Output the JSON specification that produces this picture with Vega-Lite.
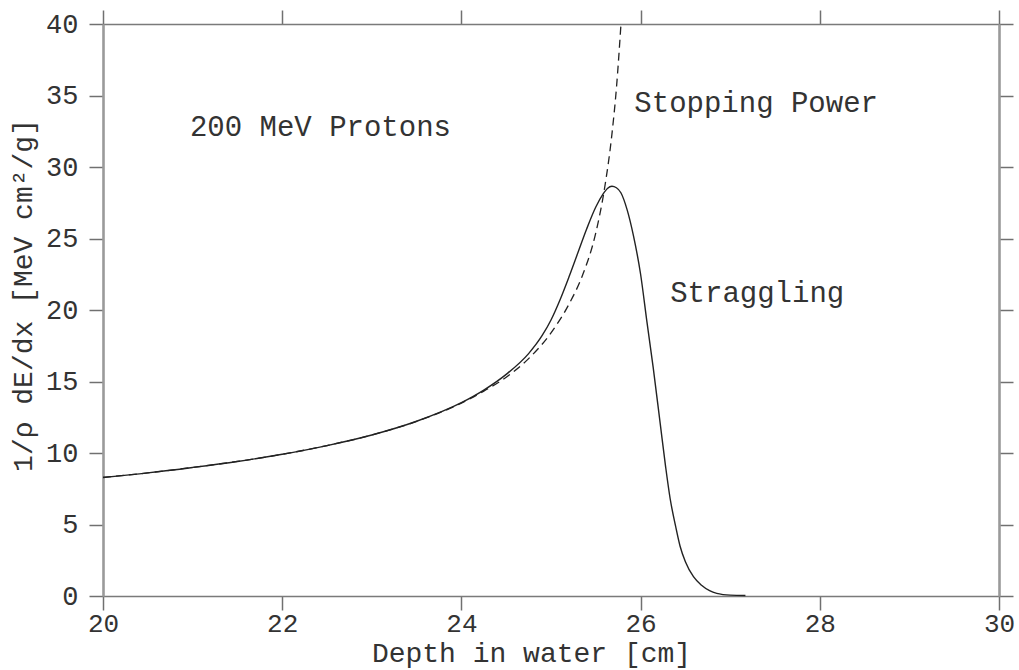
{
  "$schema": "https://vega.github.io/schema/vega-lite/v6.json",
  "width": 896,
  "height": 572,
  "autosize": "none",
  "padding": {"left": 103, "top": 24, "right": 20, "bottom": 74},
  "background": "white",
  "config": {
    "view": {"stroke": null},
    "axis": {
      "grid": false,
      "domainColor": "#7a7a7a",
      "domainWidth": 1.6,
      "tickColor": "#707070",
      "tickWidth": 1.5,
      "tickSize": 14,
      "labelFont": "Liberation Mono",
      "labelFontSize": 27,
      "labelColor": "#333333",
      "titleFont": "Liberation Mono",
      "titleFontWeight": "normal",
      "titleColor": "#333333"
    }
  },
  "datasets": {
    "curves": [
      {"depth": 20.0, "dedx": 8.29, "curve": "Stopping Power"},
      {"depth": 20.5, "dedx": 8.61, "curve": "Stopping Power"},
      {"depth": 21.0, "dedx": 8.99, "curve": "Stopping Power"},
      {"depth": 21.5, "dedx": 9.41, "curve": "Stopping Power"},
      {"depth": 22.0, "dedx": 9.91, "curve": "Stopping Power"},
      {"depth": 22.5, "dedx": 10.52, "curve": "Stopping Power"},
      {"depth": 23.0, "dedx": 11.26, "curve": "Stopping Power"},
      {"depth": 23.5, "dedx": 12.21, "curve": "Stopping Power"},
      {"depth": 24.0, "dedx": 13.49, "curve": "Stopping Power"},
      {"depth": 24.25, "dedx": 14.33, "curve": "Stopping Power"},
      {"depth": 24.5, "dedx": 15.3, "curve": "Stopping Power"},
      {"depth": 24.75, "dedx": 16.6, "curve": "Stopping Power"},
      {"depth": 25.0, "dedx": 18.4, "curve": "Stopping Power"},
      {"depth": 25.2, "dedx": 20.4, "curve": "Stopping Power"},
      {"depth": 25.35, "dedx": 22.4, "curve": "Stopping Power"},
      {"depth": 25.5, "dedx": 25.4, "curve": "Stopping Power"},
      {"depth": 25.6, "dedx": 28.6, "curve": "Stopping Power"},
      {"depth": 25.68, "dedx": 32.3, "curve": "Stopping Power"},
      {"depth": 25.73, "dedx": 35.5, "curve": "Stopping Power"},
      {"depth": 25.78, "dedx": 39.9, "curve": "Stopping Power"},
      {"depth": 20.0, "dedx": 8.29, "curve": "Straggling"},
      {"depth": 20.5, "dedx": 8.61, "curve": "Straggling"},
      {"depth": 21.0, "dedx": 8.99, "curve": "Straggling"},
      {"depth": 21.5, "dedx": 9.41, "curve": "Straggling"},
      {"depth": 22.0, "dedx": 9.91, "curve": "Straggling"},
      {"depth": 22.5, "dedx": 10.52, "curve": "Straggling"},
      {"depth": 23.0, "dedx": 11.26, "curve": "Straggling"},
      {"depth": 23.5, "dedx": 12.22, "curve": "Straggling"},
      {"depth": 24.0, "dedx": 13.52, "curve": "Straggling"},
      {"depth": 24.25, "dedx": 14.4, "curve": "Straggling"},
      {"depth": 24.5, "dedx": 15.5, "curve": "Straggling"},
      {"depth": 24.75, "dedx": 16.95, "curve": "Straggling"},
      {"depth": 24.9, "dedx": 18.2, "curve": "Straggling"},
      {"depth": 25.0, "dedx": 19.3, "curve": "Straggling"},
      {"depth": 25.1, "dedx": 20.7, "curve": "Straggling"},
      {"depth": 25.2, "dedx": 22.3, "curve": "Straggling"},
      {"depth": 25.3, "dedx": 24.0, "curve": "Straggling"},
      {"depth": 25.4, "dedx": 25.7, "curve": "Straggling"},
      {"depth": 25.5, "dedx": 27.2, "curve": "Straggling"},
      {"depth": 25.58, "dedx": 28.1, "curve": "Straggling"},
      {"depth": 25.63, "dedx": 28.5, "curve": "Straggling"},
      {"depth": 25.68, "dedx": 28.65, "curve": "Straggling"},
      {"depth": 25.73, "dedx": 28.55, "curve": "Straggling"},
      {"depth": 25.78, "dedx": 28.2, "curve": "Straggling"},
      {"depth": 25.85, "dedx": 27.0, "curve": "Straggling"},
      {"depth": 25.92, "dedx": 25.2, "curve": "Straggling"},
      {"depth": 26.0, "dedx": 22.5, "curve": "Straggling"},
      {"depth": 26.07, "dedx": 19.2, "curve": "Straggling"},
      {"depth": 26.14, "dedx": 16.0, "curve": "Straggling"},
      {"depth": 26.22, "dedx": 12.0, "curve": "Straggling"},
      {"depth": 26.28, "dedx": 9.0, "curve": "Straggling"},
      {"depth": 26.33, "dedx": 6.8, "curve": "Straggling"},
      {"depth": 26.39, "dedx": 4.9, "curve": "Straggling"},
      {"depth": 26.44, "dedx": 3.5, "curve": "Straggling"},
      {"depth": 26.5, "dedx": 2.4, "curve": "Straggling"},
      {"depth": 26.59, "dedx": 1.35, "curve": "Straggling"},
      {"depth": 26.68, "dedx": 0.75, "curve": "Straggling"},
      {"depth": 26.77, "dedx": 0.37, "curve": "Straggling"},
      {"depth": 26.85, "dedx": 0.18, "curve": "Straggling"},
      {"depth": 26.92, "dedx": 0.1, "curve": "Straggling"},
      {"depth": 27.0, "dedx": 0.06, "curve": "Straggling"},
      {"depth": 27.17, "dedx": 0.04, "curve": "Straggling"}
    ],
    "labels": [
      {"label": "200 MeV Protons", "depth": 20.97, "dedx": 32.8},
      {"label": "Stopping Power", "depth": 25.93, "dedx": 34.5},
      {"label": "Straggling", "depth": 26.33, "dedx": 21.2}
    ]
  },
  "resolve": {"axis": {"x": "independent", "y": "independent"}},
  "layer": [
    {
      "data": {"name": "curves"},
      "transform": [{"filter": "datum.curve === 'Straggling'"}],
      "mark": {"type": "line", "color": "#222222", "strokeWidth": 1.4, "interpolate": "monotone"},
      "encoding": {
        "x": {
          "field": "depth", "type": "quantitative",
          "scale": {"domain": [20, 30], "nice": false, "zero": false},
          "axis": {"orient": "bottom", "values": [20, 22, 24, 26, 28, 30], "title": "Depth in water [cm]", "titleFontSize": 28, "titlePadding": 3, "titleX": 428, "labelPadding": 0, "labelFontSize": 26, "labelFlush": false}
        },
        "y": {
          "field": "dedx", "type": "quantitative",
          "scale": {"domain": [0, 40], "nice": false},
          "axis": {"orient": "left", "values": [0, 5, 10, 15, 20, 25, 30, 35, 40], "title": "1/ρ dE/dx [MeV cm²/g]", "titleFontSize": 28, "titlePadding": 8, "titleY": 271, "labelPadding": 11, "domainColor": "#9a9a9a", "domainWidth": 2.6}
        }
      }
    },
    {
      "data": {"name": "curves"},
      "transform": [{"filter": "datum.curve === 'Stopping Power'"}],
      "mark": {"type": "line", "color": "#222222", "strokeWidth": 1.3, "strokeDash": [8, 5], "interpolate": "monotone"},
      "encoding": {
        "x": {
          "field": "depth", "type": "quantitative",
          "scale": {"domain": [20, 30], "nice": false, "zero": false},
          "axis": {"orient": "top", "values": [20, 22, 24, 26, 28, 30], "labels": false, "title": null}
        },
        "y": {
          "field": "dedx", "type": "quantitative",
          "scale": {"domain": [0, 40], "nice": false},
          "axis": {"orient": "right", "values": [0, 5, 10, 15, 20, 25, 30, 35, 40], "labels": false, "title": null, "domainColor": "#9a9a9a", "domainWidth": 2.6}
        }
      }
    },
    {
      "data": {"name": "labels"},
      "mark": {"type": "text", "font": "Liberation Mono", "fontSize": 29, "color": "#333333", "align": "left", "baseline": "middle"},
      "encoding": {
        "x": {"field": "depth", "type": "quantitative", "axis": null},
        "y": {"field": "dedx", "type": "quantitative", "axis": null},
        "text": {"field": "label"}
      }
    }
  ]
}
